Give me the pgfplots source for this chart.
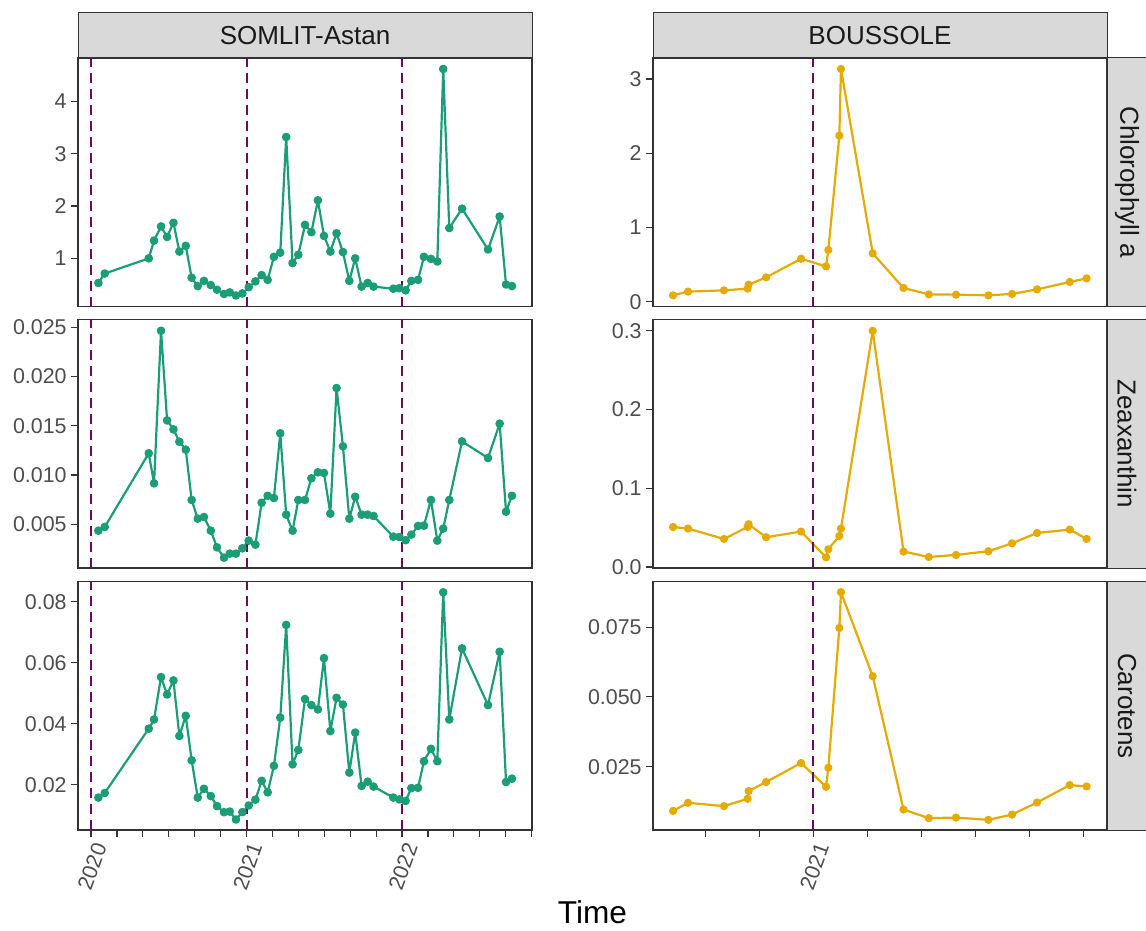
\documentclass[border=0pt]{standalone}
\usepackage{pgfplots}
\usepackage{pgfplotstable}
\pgfplotsset{compat=1.18}
\usepackage{fontspec}
\setmainfont{Liberation Sans}
\definecolor{somlit}{HTML}{1B9E77}
\definecolor{bous}{HTML}{E6AB02}
\definecolor{frame}{HTML}{333333}
\definecolor{tickc}{HTML}{4D4D4D}
\definecolor{stripfill}{HTML}{D9D9D9}
\definecolor{vcol}{RGB}{105,10,105}

\pgfplotstableread{
t chl zea car
0.047 0.53 0.00435 0.0158
0.088 0.71 0.00473 0.0173
0.371 1.00 0.01221 0.0384
0.405 1.34 0.00916 0.0414
0.450 1.61 0.02466 0.0553
0.489 1.41 0.01555 0.0496
0.530 1.68 0.01464 0.0542
0.568 1.13 0.01339 0.0360
0.609 1.24 0.01258 0.0426
0.647 0.63 0.00747 0.0280
0.686 0.47 0.00557 0.0158
0.726 0.57 0.00574 0.0187
0.770 0.49 0.00435 0.0163
0.810 0.40 0.00266 0.0130
0.855 0.32 0.00161 0.0110
0.892 0.35 0.00202 0.0112
0.932 0.29 0.00202 0.0086
0.973 0.33 0.00256 0.0110
1.014 0.45 0.00334 0.0132
1.057 0.56 0.00293 0.0151
1.097 0.68 0.00719 0.0213
1.136 0.59 0.00790 0.0175
1.176 1.03 0.00767 0.0262
1.217 1.11 0.01424 0.0420
1.255 3.32 0.00598 0.0724
1.296 0.91 0.00435 0.0267
1.333 1.07 0.00747 0.0314
1.376 1.64 0.00747 0.0481
1.417 1.50 0.00967 0.0461
1.459 2.11 0.01028 0.0447
1.498 1.43 0.01021 0.0615
1.539 1.13 0.00608 0.0376
1.579 1.48 0.01884 0.0485
1.620 1.12 0.01292 0.0463
1.661 0.57 0.00557 0.0240
1.699 1.00 0.00780 0.0371
1.740 0.46 0.00598 0.0196
1.779 0.53 0.00598 0.0210
1.817 0.46 0.00584 0.0194
1.944 0.42 0.00374 0.0158
1.983 0.43 0.00371 0.0152
2.023 0.39 0.00338 0.0147
2.060 0.57 0.00395 0.0189
2.103 0.59 0.00483 0.0190
2.141 1.03 0.00486 0.0277
2.186 0.99 0.00747 0.0318
2.227 0.94 0.00334 0.0277
2.265 4.62 0.00456 0.0831
2.304 1.58 0.00747 0.0414
2.386 1.95 0.01342 0.0647
2.553 1.17 0.01173 0.0461
2.628 1.80 0.01522 0.0636
2.669 0.50 0.00628 0.0209
2.707 0.47 0.00790 0.0220
}\somlit

\pgfplotstableread{
t chl zea car
-0.433 0.085 0.0508 0.00917
-0.387 0.135 0.0488 0.01205
-0.276 0.152 0.0356 0.01086
-0.203 0.175 0.0508 0.01349
-0.200 0.229 0.0543 0.01626
-0.146 0.327 0.0378 0.0195
-0.038 0.578 0.0450 0.0263
0.039 0.475 0.0123 0.0178
0.046 0.696 0.0225 0.0246
0.080 2.237 0.0394 0.0747
0.085 3.135 0.0488 0.0875
0.183 0.650 0.3000 0.0574
0.278 0.184 0.0196 0.00964
0.356 0.098 0.0127 0.00655
0.440 0.094 0.0153 0.00676
0.540 0.085 0.0200 0.00594
0.613 0.104 0.0301 0.00784
0.690 0.165 0.0432 0.01216
0.791 0.265 0.0475 0.0184
0.843 0.313 0.0356 0.0179
}\bous

\tikzset{
  vline/.style={draw=vcol, line width=1pt, dash pattern=on 5pt off 3pt},
  sl/.style={color=somlit, line width=1.1pt, line join=round, mark=*, mark size=1.6pt, mark options={solid}},
  bl/.style={color=bous, line width=1.1pt, line join=round, mark=*, mark size=1.5pt, mark options={solid}},
  strip/.style={fill=stripfill, draw=frame, line width=0.5pt},
  striptext/.style={font=\fontsize{13}{15}\selectfont, text={black!90}},
}
\pgfplotsset{
  panel/.style={
    scale only axis, width=227pt, height=124.3pt,
    axis line style={draw=frame, line width=0.8pt},
    tick style={draw=frame, line width=0.6pt},
    tick align=outside, major tick length=3.5pt, minor tick length=3.5pt,
    xtick pos=bottom, ytick pos=left,
    ticklabel style={font=\fontsize{10.7}{12}\selectfont, text=tickc},
    /pgf/number format/assume math mode=true,
    scaled ticks=false,
    xticklabel style={rotate=70, anchor=north east, inner sep=1.5pt},
    yticklabel style={inner sep=2pt},
    anchor=north west,
  },
  leftcol/.style={panel, xmin=-0.084, xmax=2.836, at={(39pt,#1)}},
  rightcol/.style={panel, xmin=-0.495, xmax=0.906, at={(326.5pt,#1)}},
}
\newcommand{\vl}[1]{\draw[vline] (axis cs:#1,\pgfkeysvalueof{/pgfplots/ymin}) -- (axis cs:#1,\pgfkeysvalueof{/pgfplots/ymax});}

\begin{document}
\begin{tikzpicture}
\path[use as bounding box] (0,0) rectangle (573pt,-465.5pt);

% ---------- Row 1: Chlorophyll a ----------
\begin{axis}[leftcol=-29pt, ymin=0.078, ymax=4.83, ytick={1,2,3,4}, yticklabels={1,2,3,4}, xtick=\empty]
\addplot[sl] table[x=t,y=chl]{\somlit};
\vl{0}\vl{1}\vl{2}
\end{axis}
\begin{axis}[rightcol=-29pt, ymin=-0.067, ymax=3.283, ytick={0,1,2,3}, yticklabels={0,1,2,3}, xtick=\empty]
\addplot[bl] table[x=t,y=chl]{\bous};
\vl{0}
\end{axis}

% ---------- Row 2: Zeaxanthin ----------
\begin{axis}[leftcol=-159.7pt, ymin=0.00056, ymax=0.02581, ytick={0.005,0.01,0.015,0.02,0.025}, yticklabels={0.005,0.010,0.015,0.020,0.025}, xtick=\empty]
\addplot[sl] table[x=t,y=zea]{\somlit};
\vl{0}\vl{1}\vl{2}
\end{axis}
\begin{axis}[rightcol=-159.7pt, ymin=-0.0013, ymax=0.3145, ytick={0,0.1,0.2,0.3}, yticklabels={0.0,0.1,0.2,0.3}, xtick=\empty]
\addplot[bl] table[x=t,y=zea]{\bous};
\vl{0}
\end{axis}

% ---------- Row 3: Carotens ----------
\begin{axis}[leftcol=-290.8pt, ymin=0.0051, ymax=0.0866, ytick={0.02,0.04,0.06,0.08}, yticklabels={0.02,0.04,0.06,0.08},
  xtick={0,1,2}, xticklabels={2020,2021,2022},
  minor xtick={0.1667,0.3333,0.5,0.6667,0.8333,1.1667,1.3333,1.5,1.6667,1.8333,2.1667,2.3333,2.5,2.6667,2.8333}]
\addplot[sl] table[x=t,y=car]{\somlit};
\vl{0}\vl{1}\vl{2}
\end{axis}
\begin{axis}[rightcol=-290.8pt, ymin=0.00223, ymax=0.0913, ytick={0.025,0.05,0.075}, yticklabels={0.025,0.050,0.075},
  xtick={0}, xticklabels={2021},
  minor xtick={-0.3333,-0.1667,0.1667,0.3333,0.5,0.6667,0.8333}]
\addplot[bl] table[x=t,y=car]{\bous};
\vl{0}
\end{axis}

% ---------- Strips ----------
\draw[strip] (39pt,-6.5pt) rectangle (266pt,-29pt);
\node[striptext] at (152.5pt,-17.75pt) {SOMLIT-Astan};
\draw[strip] (326.5pt,-6.5pt) rectangle (553.5pt,-29pt);
\node[striptext] at (440pt,-17.75pt) {BOUSSOLE};

\draw[strip] (553.5pt,-29pt) rectangle (575pt,-153.3pt);
\node[striptext, rotate=-90] at (563.5pt,-91.15pt) {Chlorophyll a};
\draw[strip] (553.5pt,-159.7pt) rectangle (575pt,-284pt);
\node[striptext, rotate=-90] at (563.5pt,-221.85pt) {Zeaxanthin};
\draw[strip] (553.5pt,-290.8pt) rectangle (575pt,-415.1pt);
\node[striptext, rotate=-90] at (563.5pt,-352.95pt) {Carotens};

% ---------- Axis title ----------
\node[anchor=base, font=\fontsize{15.8}{18}\selectfont] at (296.25pt,-461.5pt) {Time};
\end{tikzpicture}
\end{document}
